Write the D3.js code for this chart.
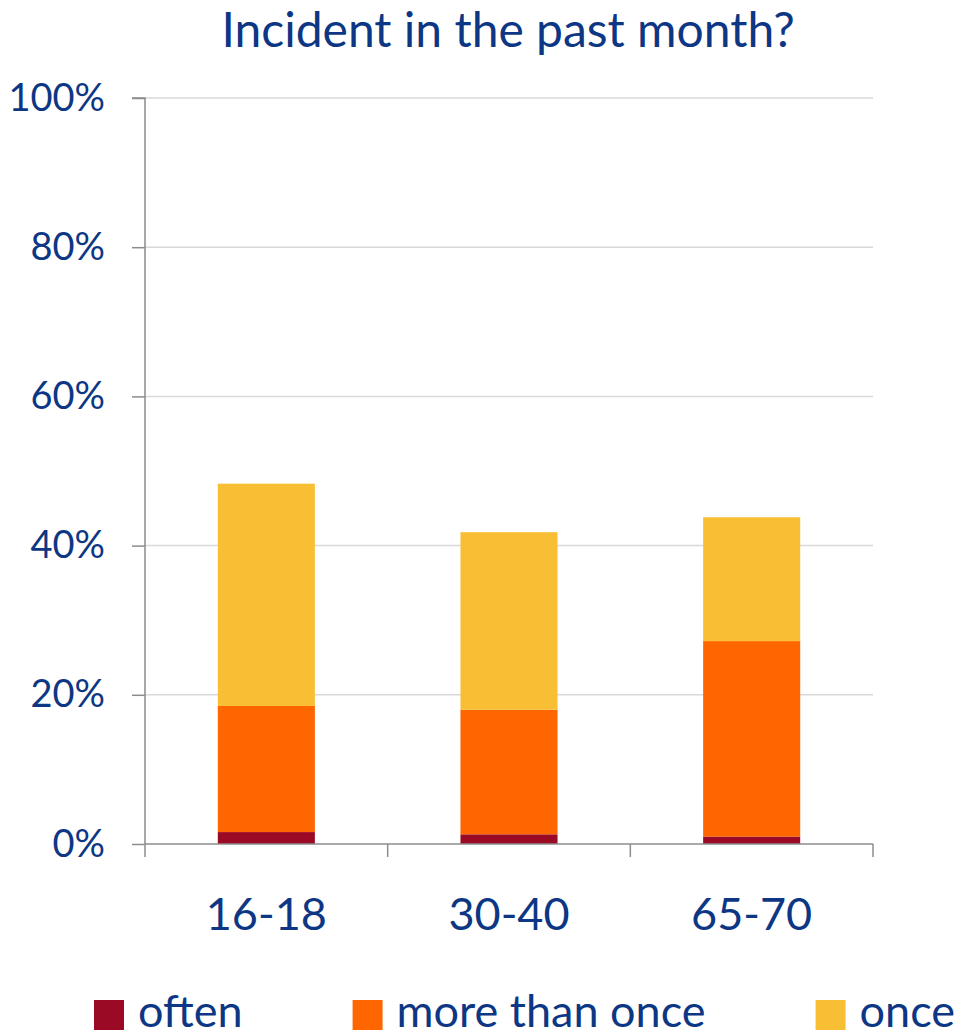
<!DOCTYPE html>
<html>
<head>
<meta charset="utf-8">
<script src="https://cdn.jsdelivr.net/npm/d3@7"></script>
<style>
  html, body { margin: 0; padding: 0; background: #ffffff; }
  svg { display: block; }
  text { font-family: "Lato", "Open Sans", sans-serif; fill: #0d3784; }
</style>
</head>
<body>
<svg id="chart" width="967" height="1036"></svg>
<script>
// Age groups and the share (%) reporting an incident in the past month
const categories = ["16-18", "30-40", "65-70"];
const seriesNames = ["often", "more than once", "once"];
const often = [1.6, 1.3, 1.0];
const moreThanOnce = [16.9, 16.7, 26.2];
const once = [29.8, 23.8, 16.6];
const yTicks = [0, 20, 40, 60, 80, 100];
const colors = ["#9b0a25", "#ff6600", "#f9bf34"];

const svg = d3.select("#chart");
const margin = { left: 145, right: 94, top: 98, bottom: 192 };
const W = 967, H = 1036;
const innerW = W - margin.left - margin.right;
const innerH = H - margin.top - margin.bottom;

const rows = categories.map((c, i) => ({
  cat: c, "often": often[i], "more than once": moreThanOnce[i], "once": once[i]
}));
const stacked = d3.stack().keys(seriesNames)(rows);

const x = d3.scaleBand().domain(categories).range([0, innerW]).paddingInner(0.6).paddingOuter(0.3);
const y = d3.scaleLinear().domain([0, 100]).range([innerH, 0]);

const g = svg.append("g").attr("transform", `translate(${margin.left},${margin.top})`);

// Title
svg.append("text")
  .attr("x", 508).attr("y", 47)
  .attr("text-anchor", "middle")
  .style("font-size", "48px")
  .text("Incident in the past month?");

// Horizontal gridlines
g.append("g").selectAll("line").data(yTicks.filter(t => t > 0)).join("line")
  .attr("x1", 0).attr("x2", innerW)
  .attr("y1", d => y(d)).attr("y2", d => y(d))
  .attr("stroke", "#d9d9d9").attr("stroke-width", 1.5);

// Stacked bars
g.append("g").selectAll("g").data(stacked).join("g")
  .attr("fill", (d, i) => colors[i])
  .selectAll("rect").data(d => d).join("rect")
  .attr("x", d => x(d.data.cat))
  .attr("width", x.bandwidth())
  .attr("y", d => y(d[1]))
  .attr("height", d => y(d[0]) - y(d[1]));

// Y axis
const yAxis = g.append("g")
  .call(d3.axisLeft(y).tickValues(yTicks).tickFormat(d => d + "%").tickSize(13).tickPadding(27));
yAxis.selectAll("path, line").attr("stroke", "#8c8c8c").attr("stroke-width", 1.5);
yAxis.select(".domain").attr("d", `M-13,${y(100)}H0V${innerH}`);
yAxis.selectAll("text").style("font-size", "38px").attr("fill", "#0d3784").attr("font-family", null);

// X axis with tick marks at category boundaries
const xAxisG = g.append("g").attr("transform", `translate(0,${innerH})`);
xAxisG.append("line").attr("x1", 0).attr("x2", innerW).attr("y1", 0).attr("y2", 0)
  .attr("stroke", "#8c8c8c").attr("stroke-width", 1.5);
const step = innerW / categories.length;
xAxisG.selectAll("line.tick").data(d3.range(categories.length + 1)).join("line")
  .attr("class", "tick")
  .attr("x1", d => d * step).attr("x2", d => d * step)
  .attr("y1", 0).attr("y2", 13)
  .attr("stroke", "#8c8c8c").attr("stroke-width", 1.5);
xAxisG.selectAll("text").data(categories).join("text")
  .attr("x", d => x(d) + x.bandwidth() / 2)
  .attr("y", 86)
  .attr("text-anchor", "middle")
  .style("font-size", "45px")
  .text(d => d);

// Legend
const legend = svg.append("g").attr("transform", "translate(94,1000)");
let lx = 0;
seriesNames.forEach((name, i) => {
  const item = legend.append("g").attr("transform", `translate(${lx},0)`);
  item.append("rect").attr("width", 30).attr("height", 30).attr("fill", colors[i]);
  const t = item.append("text").attr("x", 44).attr("y", 27)
    .style("font-size", "45px").text(name);
  lx += 44 + t.node().getComputedTextLength() + 110;
});
</script>
</body>
</html>
